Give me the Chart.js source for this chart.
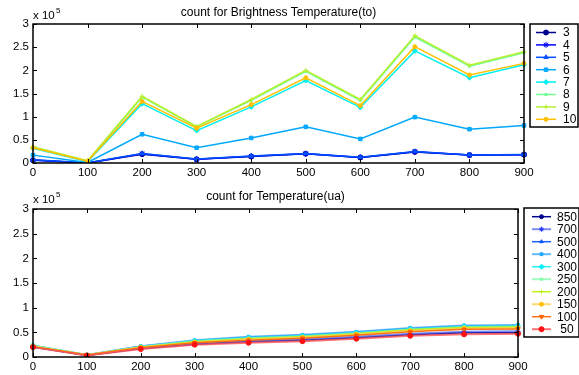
<!DOCTYPE html>
<html>
<head>
<meta charset="utf-8">
<script src="https://cdn.jsdelivr.net/npm/chart.js@4.4.0/dist/chart.umd.min.js"></script>
<style>
  html, body { margin: 0; padding: 0; background: #fff; }
  #wrap { position: relative; width: 579px; height: 375px; }
  #top { position: absolute; left: 0; top: 0; }
  #bot { position: absolute; left: 0; top: 185px; }
</style>
</head>
<body>
<div id="wrap">
  <canvas id="top" width="579" height="185"></canvas>
  <canvas id="bot" width="579" height="190"></canvas>
</div>
<script>
// x axis categories (same for both plots)
const categories = ['0', '100', '200', '300', '400', '500', '600', '700', '800', '900'];
const yTicks = [0, 0.5, 1, 1.5, 2, 2.5, 3]; // in units of 10^5

// counts for Brightness Temperature(to), units of 10^5
const toLabels = ['3', '4', '5', '6', '7', '8', '9', '10'];
const to3  = [0.06, 0.00, 0.19, 0.08, 0.14, 0.20, 0.12, 0.24, 0.17, 0.18];
const to4  = [0.065, 0.00, 0.20, 0.08, 0.145, 0.20, 0.12, 0.245, 0.17, 0.18];
const to5  = [0.07, 0.005, 0.205, 0.085, 0.15, 0.205, 0.125, 0.25, 0.175, 0.185];
const to6  = [0.17, 0.01, 0.62, 0.33, 0.54, 0.78, 0.52, 0.99, 0.73, 0.81];
const to7  = [0.32, 0.03, 1.28, 0.70, 1.21, 1.78, 1.20, 2.42, 1.84, 2.12];
const to8  = [0.34, 0.04, 1.42, 0.78, 1.35, 1.98, 1.35, 2.72, 2.09, 2.38];
const to9  = [0.35, 0.05, 1.44, 0.79, 1.37, 2.00, 1.37, 2.75, 2.11, 2.40];
const to10 = [0.33, 0.04, 1.33, 0.75, 1.26, 1.84, 1.24, 2.51, 1.90, 2.15];

// counts for Temperature(ua), units of 10^5
const uaLabels = ['850', '700', '500', '400', '300', '250', '200', '150', '100', ' 50'];
const ua850 = [0.20, 0.03, 0.17, 0.26, 0.31, 0.34, 0.39, 0.45, 0.49, 0.49];
const ua700 = [0.21, 0.04, 0.18, 0.27, 0.32, 0.36, 0.41, 0.47, 0.51, 0.52];
const ua500 = [0.23, 0.04, 0.22, 0.33, 0.40, 0.44, 0.50, 0.58, 0.63, 0.64];
const ua400 = [0.23, 0.04, 0.22, 0.34, 0.41, 0.45, 0.51, 0.59, 0.64, 0.65];
const ua300 = [0.24, 0.04, 0.21, 0.33, 0.39, 0.43, 0.49, 0.57, 0.62, 0.63];
const ua250 = [0.23, 0.04, 0.21, 0.32, 0.38, 0.42, 0.48, 0.56, 0.61, 0.62];
const ua200 = [0.22, 0.04, 0.20, 0.31, 0.37, 0.41, 0.47, 0.55, 0.60, 0.61];
const ua150 = [0.22, 0.04, 0.20, 0.30, 0.36, 0.40, 0.46, 0.53, 0.58, 0.59];
const ua100 = [0.21, 0.04, 0.19, 0.29, 0.34, 0.38, 0.44, 0.51, 0.56, 0.57];
const ua50  = [0.20, 0.03, 0.16, 0.25, 0.29, 0.32, 0.37, 0.43, 0.46, 0.47];

const FONT = '"Liberation Sans", Arial, sans-serif';

let dsCount = 0;
function ds(label, data, color, style, lineColor, width, radius, rotation) {
  dsCount++;
  return {
    label: label,
    data: data,
    order: -dsCount, // later series drawn on top, as in matlab
    borderColor: lineColor || color,
    backgroundColor: color,
    pointBackgroundColor: color,
    pointBorderColor: color,
    pointStyle: style,
    pointRotation: rotation || 0,
    pointRadius: radius || 2.5,
    pointBorderWidth: 1,
    borderWidth: width || 1.5,
    tension: 0
  };
}

// frame, inward ticks, title, x10^5 and boxed legend, matlab style
const matlabPlugin = {
  id: 'matlab',
  afterDraw(chart, args, opts) {
    const ctx = chart.ctx;
    const a = chart.chartArea;
    const xs = chart.scales.x, ys = chart.scales.y;
    ctx.save();
    ctx.strokeStyle = '#000';
    ctx.lineWidth = 1.5;
    ctx.strokeRect(a.left, a.top, a.right - a.left, a.bottom - a.top);
    ctx.lineWidth = 1;
    const tl = 4;
    xs.ticks.forEach((t, i) => {
      const px = Math.round(xs.getPixelForTick(i)) + 0.5;
      ctx.beginPath();
      ctx.moveTo(px, a.bottom); ctx.lineTo(px, a.bottom - tl);
      ctx.moveTo(px, a.top); ctx.lineTo(px, a.top + tl);
      ctx.stroke();
    });
    ys.ticks.forEach((t, i) => {
      const py = Math.round(ys.getPixelForTick(i)) + 0.5;
      ctx.beginPath();
      ctx.moveTo(a.left, py); ctx.lineTo(a.left + tl, py);
      ctx.moveTo(a.right, py); ctx.lineTo(a.right - tl, py);
      ctx.stroke();
    });

    ctx.fillStyle = '#000';
    ctx.textBaseline = 'middle';
    ctx.font = '12px ' + FONT;
    ctx.textAlign = 'center';
    ctx.fillText(opts.title, (a.left + a.right) / 2, opts.titleY);
    ctx.textAlign = 'left';
    ctx.font = '11.5px ' + FONT;
    ctx.fillText('x 10', a.left, opts.titleY + 3.5);
    ctx.font = '8px ' + FONT;
    ctx.fillText('5', a.left + 23, opts.titleY - 2);

    // legend
    const L = opts.legend;
    ctx.fillStyle = '#fff';
    ctx.fillRect(L.x1, L.y1, L.x2 - L.x1, L.y2 - L.y1);
    ctx.strokeStyle = '#000';
    ctx.lineWidth = 1.5;
    ctx.strokeRect(L.x1, L.y1, L.x2 - L.x1, L.y2 - L.y1);
    ctx.font = '12px ' + FONT;
    chart.data.datasets.forEach((d, i) => {
      const y = L.firstY + i * L.stepY;
      ctx.strokeStyle = d.borderColor;
      ctx.lineWidth = d.borderWidth;
      ctx.beginPath();
      ctx.moveTo(L.s1, y); ctx.lineTo(L.s2, y);
      ctx.stroke();
      ctx.fillStyle = d.pointBackgroundColor;
      ctx.strokeStyle = d.pointBorderColor;
      ctx.lineWidth = 1;
      if (Chart.helpers && Chart.helpers.drawPoint) {
        Chart.helpers.drawPoint(ctx, { pointStyle: d.pointStyle, rotation: d.pointRotation, radius: d.pointRadius, borderWidth: 1 }, (L.s1 + L.s2) / 2, y);
      } else {
        ctx.beginPath(); ctx.arc((L.s1 + L.s2) / 2, y, 2.5, 0, Math.PI * 2); ctx.fill();
      }
      ctx.fillStyle = '#000';
      ctx.textAlign = 'left';
      ctx.fillText(d.label, L.tx, y + 0.5);
    });
    ctx.restore();
  }
};

function makeOptions(xHeight, padRight, title, titleY, legend) {
  return {
    responsive: false,
    animation: false,
    layout: { padding: { left: 0, right: padRight, top: 24, bottom: 0 } },
    plugins: {
      legend: { display: false },
      tooltip: { enabled: false },
      matlab: { title: title, titleY: titleY, legend: legend }
    },
    scales: {
      x: {
        type: 'category',
        offset: false,
        grid: { display: false, drawTicks: false },
        border: { display: false },
        ticks: { color: '#000', font: { family: FONT, size: 11.5 }, padding: 3, maxRotation: 0, autoSkip: false },
        afterFit: s => { s.height = xHeight; }
      },
      y: {
        min: 0, max: 3,
        grid: { display: false, drawTicks: false },
        border: { display: false },
        afterBuildTicks: s => { s.ticks = yTicks.map(v => ({ value: v })); },
        ticks: { color: '#000', font: { family: FONT, size: 11.5 }, padding: 4, callback: v => String(v) },
        afterFit: s => { s.width = 33; }
      }
    }
  };
}

new Chart(document.getElementById('top'), {
  type: 'line',
  data: {
    labels: categories,
    datasets: [
      ds(toLabels[0], to3, '#00008f', 'circle'),
      ds(toLabels[1], to4, '#0000ff', 'star', null, 1.5, 3),
      ds(toLabels[2], to5, '#0050ff', 'triangle'),
      ds(toLabels[3], to6, '#00a8ff', 'rect'),
      ds(toLabels[4], to7, '#00f0f0', 'rectRot'),
      ds(toLabels[5], to8, '#70ff90', 'rect', null, 1.5, 1.5),
      ds(toLabels[6], to9, '#b8f030', 'cross', null, 1.5, 2.5),
      ds(toLabels[7], to10, '#ffc000', 'circle', null, 1.5, 2)
    ]
  },
  options: makeOptions(22, 55, 'count for Brightness Temperature(to)', 12.5,
    { x1: 530, y1: 24, x2: 578, y2: 127, s1: 536, s2: 556, tx: 563, firstY: 32.5, stepY: 12.4 }),
  plugins: [matlabPlugin]
});

new Chart(document.getElementById('bot'), {
  type: 'line',
  data: {
    labels: categories,
    datasets: [
      ds(uaLabels[0], ua850, '#000090', 'circle', '#000090', 1.5, 2),
      ds(uaLabels[1], ua700, '#2030ff', 'star', 'rgba(70,90,240,0.7)', 2, 2.5),
      ds(uaLabels[2], ua500, '#0050ff', 'triangle', 'rgba(0,80,255,0.9)', 1.5, 2),
      ds(uaLabels[3], ua400, '#20a8ff', 'rect', 'rgba(60,170,255,0.8)', 2, 2),
      ds(uaLabels[4], ua300, '#00f0ff', 'rectRot', 'rgba(0,240,240,0.85)', 1.5, 2.5),
      ds(uaLabels[5], ua250, '#80ffa0', 'rect', 'rgba(130,250,170,0.75)', 2, 1.5),
      ds(uaLabels[6], ua200, '#c0f000', 'cross', 'rgba(190,240,0,0.9)', 1.5, 2),
      ds(uaLabels[7], ua150, '#ffc000', 'circle', 'rgba(255,205,70,0.75)', 2, 2),
      ds(uaLabels[8], ua100, '#ff6000', 'triangle', 'rgba(255,100,0,0.9)', 1.5, 2.5, 180),
      ds(uaLabels[9], ua50, '#ff1010', 'circle', 'rgba(255,80,80,0.8)', 2, 2.5)
    ]
  },
  options: makeOptions(18, 61, 'count for Temperature(ua)', 11.7,
    { x1: 524, y1: 23, x2: 579, y2: 152, s1: 532, s2: 551, tx: 557, firstY: 31.7, stepY: 12.5 }),
  plugins: [matlabPlugin]
});
</script>
</body>
</html>
